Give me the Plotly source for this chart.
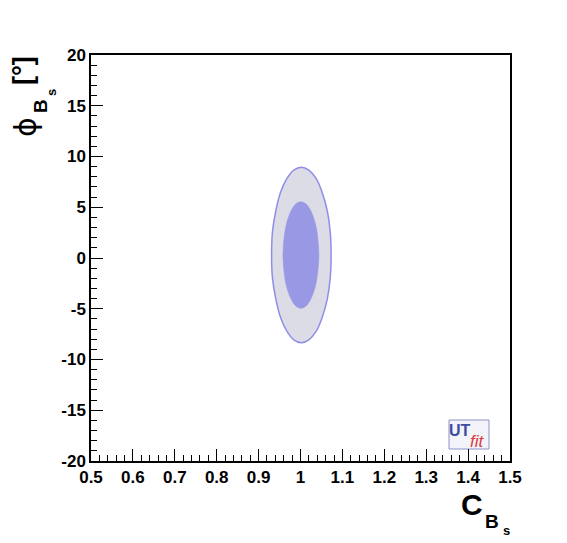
import plotly.graph_objects as go

# contour points (C_Bs, phi_Bs in degrees)
outer_x = [1.073, 1.071, 1.064, 1.052, 1.038, 1.020, 1.002, 0.984, 0.967, 0.952, 0.941, 0.933,
           0.931, 0.933, 0.941, 0.952, 0.967, 0.984, 1.002, 1.020, 1.038, 1.052, 1.064, 1.071]
outer_y = [0.30, 2.54, 4.63, 6.42, 7.79, 8.66, 8.95, 8.66, 7.79, 6.42, 4.63, 2.54,
           0.30, -1.94, -4.03, -5.82, -7.19, -8.06, -8.35, -8.06, -7.19, -5.82, -4.03, -1.94]
inner_x = [1.044, 1.042, 1.038, 1.031, 1.022, 1.012, 1.001, 0.990, 0.980, 0.971, 0.964, 0.960,
           0.958, 0.960, 0.964, 0.971, 0.980, 0.990, 1.001, 1.012, 1.022, 1.031, 1.038, 1.042]
inner_y = [0.30, 1.66, 2.93, 4.01, 4.85, 5.37, 5.55, 5.37, 4.85, 4.01, 2.93, 1.66,
           0.30, -1.06, -2.33, -3.41, -4.25, -4.77, -4.95, -4.77, -4.25, -3.41, -2.33, -1.06]

x_ticks = [0.5, 0.6, 0.7, 0.8, 0.9, 1.0, 1.1, 1.2, 1.3, 1.4, 1.5]
y_ticks = [-20, -15, -10, -5, 0, 5, 10, 15, 20]
y_labels = ["-20", "-15", "-10", "-5", "0", "5", "10", "15", "20"]

# the page body adds an 8px offset, so the figure is drawn 8px smaller
OFF = 8
W, H = 567 - OFF, 543 - OFF
L, R, T, B = 91, 510, 55, 461
FONT = "Liberation Sans"


def px(x, y):
    # window pixel position -> paper coordinates
    return (x - L) / (R - L), (B - y) / (B - T)


fig = go.Figure()
fig.add_trace(go.Scatter(
    x=outer_x + outer_x[:1], y=outer_y + outer_y[:1],
    mode="lines", fill="toself", fillcolor="#dcdce6",
    line=dict(color="#8e8ee8", width=1.5, shape="spline"),
    hoverinfo="skip", showlegend=False))
fig.add_trace(go.Scatter(
    x=inner_x + inner_x[:1], y=inner_y + inner_y[:1],
    mode="lines", fill="toself", fillcolor="#9898e4",
    line=dict(color="#9898e4", width=0.5, shape="spline"),
    hoverinfo="skip", showlegend=False))

axis_common = dict(
    showgrid=False, zeroline=False, showline=True, mirror=True,
    linecolor="black", linewidth=1.5, ticks="inside", ticklen=12,
    tickwidth=1, tickcolor="black",
    tickfont=dict(family=FONT, size=17, color="black", weight="bold"),
)
fig.update_xaxes(range=[0.5, 1.5], tickvals=x_ticks,
                 ticktext=[f"{v:g}" for v in x_ticks],
                 minor=dict(dtick=0.02, ticks="inside", ticklen=6, tickcolor="black"),
                 ticklabelstandoff=0, **axis_common)
fig.update_yaxes(range=[-20, 20], tickvals=y_ticks, ticktext=y_labels,
                 minor=dict(dtick=1, ticks="inside", ticklen=6, tickcolor="black"),
                 ticklabelstandoff=0, **axis_common)

ann = []


def label(text, x, y, size, angle=0, color="black", bold=True, italic=False, family=FONT):
    xp, yp = px(x, y)
    ann.append(dict(text=text, x=xp, y=yp, xref="paper", yref="paper",
                    showarrow=False, textangle=angle, xanchor="center", yanchor="middle",
                    font=dict(family=family, size=size, color=color,
                              weight="bold" if bold else "normal",
                              style="italic" if italic else "normal")))


# x title C_{B_s}
label("C", 472, 504, 30)
label("B", 492, 521, 19)
label("s", 506, 530, 13)
# y title phi_{B_s} [deg]
label("ϕ", 25, 127, 30, angle=-90, bold=False, family="DejaVu Sans")
label("B", 40, 106, 19, angle=-90)
label("s", 51, 93, 13, angle=-90)
label("[°]", 23, 71, 27, angle=-90)
# UTfit logo
label("UT", 460, 430, 16, color="#3c4ca0", bold=True)
label("fit", 477, 441, 17, color="#e03a3a", bold=False, italic=True)

x0, y0 = px(449, 449)
x1, y1 = px(489, 420)
fig.add_shape(type="rect", xref="paper", yref="paper", x0=x0, y0=y0, x1=x1, y1=y1,
              fillcolor="#f3f3fa", line=dict(color="#8a92c4", width=1), layer="below")

fig.update_layout(
    width=W, height=H,
    margin=dict(l=L - OFF, r=567 - R, t=T - OFF, b=543 - B),
    plot_bgcolor="white", paper_bgcolor="white",
    annotations=ann,
)

fig.write_html("out.html")
